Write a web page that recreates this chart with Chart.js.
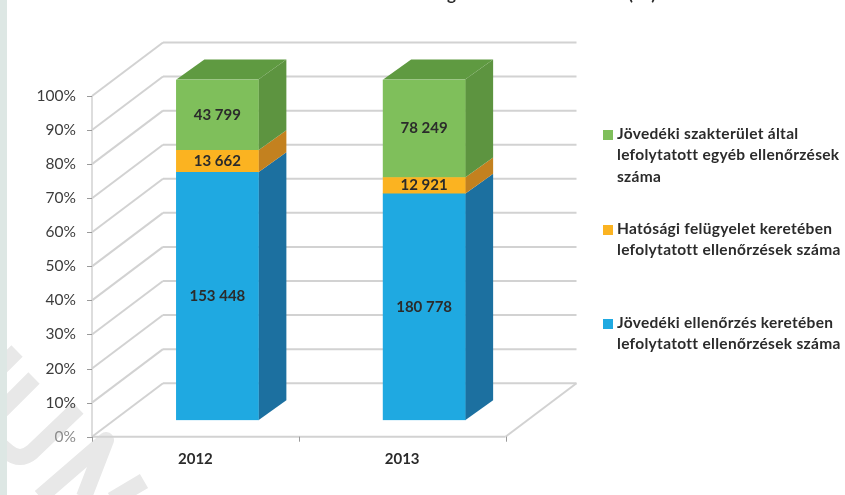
<!DOCTYPE html>
<html>
<head>
<meta charset="utf-8">
<style>
  html, body { margin: 0; padding: 0; background: #fff; }
  #wrap { position: absolute; left: 0; top: 0; width: 845px; height: 495px; }
</style>
<script src="https://cdn.jsdelivr.net/npm/chart.js@4"></script>
</head>
<body>
<div id="wrap"><canvas id="chart" width="845" height="495"></canvas></div>
<script>
const years = ['2012', '2013'];
const jovedekiEllenorzes = [153448, 180778];
const hatosagiFelugyelet = [13662, 12921];
const egyebEllenorzes = [43799, 78249];
const yTicks = [0, 10, 20, 30, 40, 50, 60, 70, 80, 90, 100];

const legendLines = [
    ['Jövedéki szakterület által', 'lefolytatott egyéb ellenőrzések', 'száma'],
    ['Hatósági felügyelet keretében', 'lefolytatott ellenőrzések száma'],
    ['Jövedéki ellenőrzés keretében', 'lefolytatott ellenőrzések száma']
];

const BLUE = '#1fa9e1', ORANGE = '#fbb321', GREEN = '#7fbf5b';
const SIDE = { [BLUE]: '#1c70a0', [ORANGE]: '#c3811f', [GREEN]: '#5d9440' };
const TOP_GREEN = '#5f9a41';
const GRID = '#d2d2d2';
const FONT = 'Lato, "Open Sans", sans-serif';

// depth of the fake 3D box
const wallDx = 71, wallDy = -53.5;
const barDx = 22, barDy = -16.5;
const sideDx = 28, sideDy = -20;

// 100% stacked: each value as a share of the year total
const totals = years.map((y, i) => jovedekiEllenorzes[i] + hatosagiFelugyelet[i] + egyebEllenorzes[i]);
const share = arr => arr.map((v, i) => v / totals[i] * 100);
const spaced = v => String(v).replace(/\B(?=(\d{3})+$)/g, ' ');

function line(ctx, x1, y1, x2, y2) {
    ctx.beginPath();
    ctx.moveTo(x1, y1);
    ctx.lineTo(x2, y2);
    ctx.stroke();
}

function poly(ctx, pts, color) {
    ctx.fillStyle = color;
    ctx.beginPath();
    pts.forEach((p, i) => i ? ctx.lineTo(p[0], p[1]) : ctx.moveTo(p[0], p[1]));
    ctx.closePath();
    ctx.fill();
}

const box3d = {
    id: 'box3d',
    beforeDraw(chart) {
        const ctx = chart.ctx, a = chart.chartArea, y = chart.scales.y;
        ctx.save();
        // scan watermark
        ctx.strokeStyle = '#e8e8e8';
        ctx.lineWidth = 16;
        ctx.lineJoin = 'round';
        ctx.beginPath();
        ctx.moveTo(17, 351); ctx.lineTo(-6, 374);
        ctx.moveTo(34, 378); ctx.lineTo(-6, 418);
        ctx.moveTo(78, 408); ctx.lineTo(32, 452);
        ctx.quadraticCurveTo(20, 462, 8, 452);
        ctx.lineTo(-6, 440);
        ctx.moveTo(40, 497); ctx.lineTo(106, 440); ctx.lineTo(84, 497);
        ctx.moveTo(144, 481); ctx.lineTo(112, 500);
        ctx.stroke();
        // strip on the left side of the page
        ctx.fillStyle = '#dde7e4';
        ctx.fillRect(0, 0, 7, chart.height);
        ctx.restore();

        ctx.save();
        ctx.strokeStyle = GRID;
        ctx.lineWidth = 2;
        yTicks.forEach(t => {
            const py = y.getPixelForValue(t);
            line(ctx, a.left + wallDx, py + wallDy, a.right + wallDx, py + wallDy);
            line(ctx, a.left, py, a.left + wallDx, py + wallDy);
        });
        // floor
        line(ctx, a.left, a.bottom, a.right, a.bottom);
        line(ctx, a.right, a.bottom, a.right + wallDx, a.bottom + wallDy);
        ctx.lineWidth = 1.5;
        line(ctx, a.left, a.top, a.left, a.bottom);
        // ticks
        ctx.strokeStyle = '#9a9a9a';
        ctx.lineWidth = 1;
        yTicks.forEach(t => {
            const py = Math.round(y.getPixelForValue(t)) + 0.5;
            line(ctx, a.left - 5, py, a.left, py);
        });
        [0, 1, 2].forEach(i => {
            const px = Math.round(a.left + (a.right - a.left) * i / 2) + 0.5;
            line(ctx, px, a.bottom, px, a.bottom + 5);
        });
        ctx.restore();
    },
    beforeDatasetsDraw(chart) {
        const ctx = chart.ctx;
        chart.data.datasets.forEach((ds, d) => {
            chart.getDatasetMeta(d).data.forEach(bar => {
                const r = bar.x + bar.width / 2 + barDx, top = bar.y + barDy, bot = bar.base + barDy;
                poly(ctx, [[r, top], [r + sideDx, top + sideDy], [r + sideDx, bot + sideDy], [r, bot]], SIDE[ds.backgroundColor]);
                if (d === chart.data.datasets.length - 1) {
                    const l = bar.x - bar.width / 2 + barDx;
                    poly(ctx, [[l, top], [l + sideDx, top + sideDy], [r + sideDx, top + sideDy], [r, top]], TOP_GREEN);
                }
            });
        });
        ctx.save();
        ctx.translate(barDx, barDy);
    },
    afterDatasetsDraw(chart) {
        const ctx = chart.ctx;
        ctx.restore();
        // value labels
        ctx.save();
        ctx.font = 'bold 15px ' + FONT;
        ctx.fillStyle = '#2b2b2b';
        ctx.textAlign = 'center';
        ctx.textBaseline = 'middle';
        chart.data.datasets.forEach((ds, d) => {
            chart.getDatasetMeta(d).data.forEach((bar, i) => {
                ctx.fillText(spaced(ds.raw[i]), bar.x + barDx, (bar.y + bar.base) / 2 + barDy);
            });
        });
        ctx.restore();
    },
    afterDraw(chart) {
        const ctx = chart.ctx;
        ctx.save();
        // page title, cut by the top edge of the scan
        ctx.font = 'bold 17px ' + FONT;
        ctx.fillStyle = '#2b2b2b';
        ctx.textBaseline = 'alphabetic';
        ctx.textAlign = 'right';
        ctx.fillText('(db)', 656, 0);
        ctx.fillText('g', 456, 0);
        ctx.textAlign = 'left';
        // legend on the right, letter spacing also turns off the Lato tt ligature
        const colors = [GREEN, ORANGE, BLUE];
        const startY = [134, 229, 323];
        ctx.font = 'bold 15.5px ' + FONT;
        ctx.letterSpacing = '0.3px';
        ctx.textBaseline = 'middle';
        legendLines.forEach((lines, i) => {
            ctx.fillStyle = colors[i];
            ctx.fillRect(603, startY[i] - 4, 10, 10);
            ctx.fillStyle = '#2b2b2b';
            lines.forEach((txt, k) => ctx.fillText(txt, 617, startY[i] + k * 21.4));
        });
        ctx.restore();
    }
};

new Chart(document.getElementById('chart'), {
    type: 'bar',
    data: {
        labels: years,
        datasets: [
            { label: 'Jövedéki ellenőrzés', data: share(jovedekiEllenorzes), raw: jovedekiEllenorzes, backgroundColor: BLUE },
            { label: 'Hatósági felügyelet', data: share(hatosagiFelugyelet), raw: hatosagiFelugyelet, backgroundColor: ORANGE },
            { label: 'Egyéb ellenőrzések', data: share(egyebEllenorzes), raw: egyebEllenorzes, backgroundColor: GREEN }
        ]
    },
    options: {
        responsive: false,
        animation: false,
        layout: { padding: { left: 0, top: 96, right: 339.5, bottom: 0 } },
        datasets: { bar: { barThickness: 82 } },
        plugins: { legend: { display: false }, tooltip: { enabled: false } },
        scales: {
            x: {
                stacked: true,
                afterFit(s) { s.height = 58.3; },
                grid: { display: false },
                border: { display: false },
                ticks: { color: '#2b2b2b', padding: 5, font: { family: FONT, size: 15, weight: 'bold' } }
            },
            y: {
                stacked: true,
                min: 0,
                max: 100,
                afterFit(s) { s.width = 92; },
                grid: { display: false },
                border: { display: false },
                ticks: {
                    stepSize: 10,
                    color: c => c.tick.value === 0 ? '#8c8c8c' : '#3c3c3c',
                    padding: 8,
                    callback: v => v + '%',
                    font: { family: FONT, size: 15.5 }
                }
            }
        }
    },
    plugins: [box3d]
});
</script>
</body>
</html>
